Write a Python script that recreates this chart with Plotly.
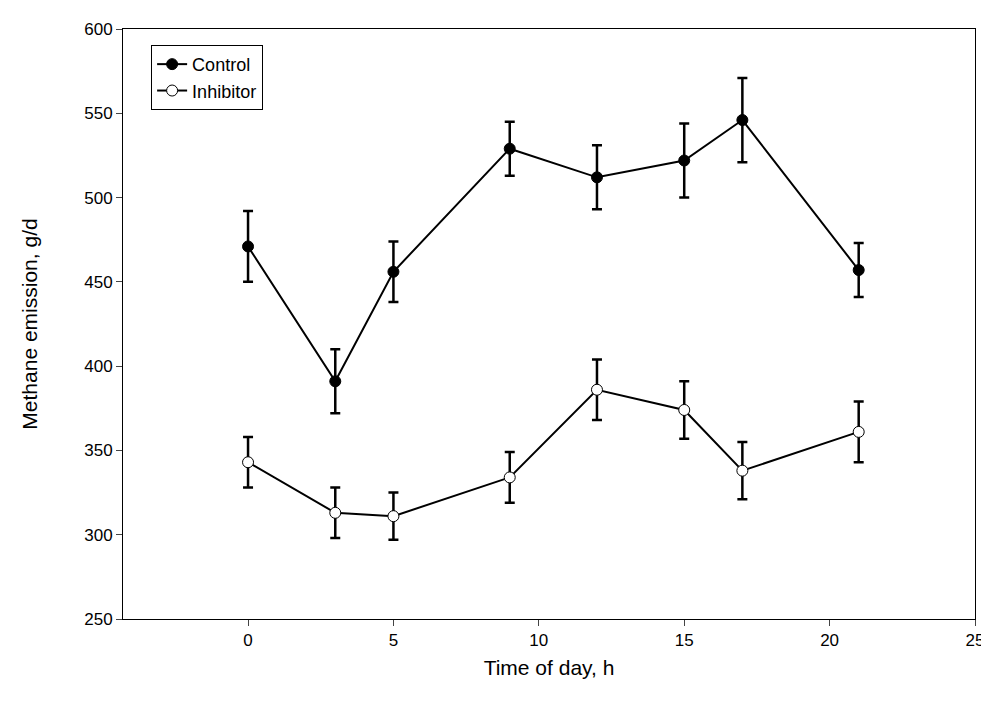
import plotly.graph_objects as go

hours = [0, 3, 5, 9, 12, 15, 17, 21]
control = [471, 391, 456, 529, 512, 522, 546, 457]
control_err = [21, 19, 18, 16, 19, 22, 25, 16]
inhibitor = [343, 313, 311, 334, 386, 374, 338, 361]
inhibitor_err = [15, 15, 14, 15, 18, 17, 17, 18]

fig = go.Figure()
for name, y, err, fill in [("Control", control, control_err, "black"),
                           ("Inhibitor", inhibitor, inhibitor_err, "white")]:
    fig.add_trace(go.Scatter(
        x=hours, y=y, name=name, mode="lines+markers",
        line=dict(color="black", width=2),
        marker=dict(size=11, color=fill, line=dict(color="black", width=1)),
        error_y=dict(type="data", array=err, color="black", thickness=2.5, width=5),
    ))

fig.update_layout(
    width=989, height=718,
    margin=dict(l=115, r=22, t=16, b=107),
    plot_bgcolor="white", paper_bgcolor="white",
    font=dict(family="Liberation Sans, Arial", size=17, color="black"),
    legend=dict(x=0.033, y=0.973, xanchor="left", yanchor="top",
                bordercolor="black", borderwidth=1, font=dict(size=18),
                tracegroupgap=2),
    showlegend=True,
)
fig.update_xaxes(range=[-4.3, 25], tickvals=[0, 5, 10, 15, 20, 25],
                 ticks="outside", ticklen=6, showline=True, linecolor="black",
                 mirror=True, showgrid=False, zeroline=False,
                 title=dict(text="Time of day, h", font=dict(size=21), standoff=10))
fig.update_yaxes(range=[250, 600], dtick=50, ticks="outside", ticklen=6,
                 showline=True, linecolor="black", mirror=True, showgrid=False,
                 zeroline=False,
                 title=dict(text="Methane emission, g/d", font=dict(size=21), standoff=40))

fig.write_html("out.html")
